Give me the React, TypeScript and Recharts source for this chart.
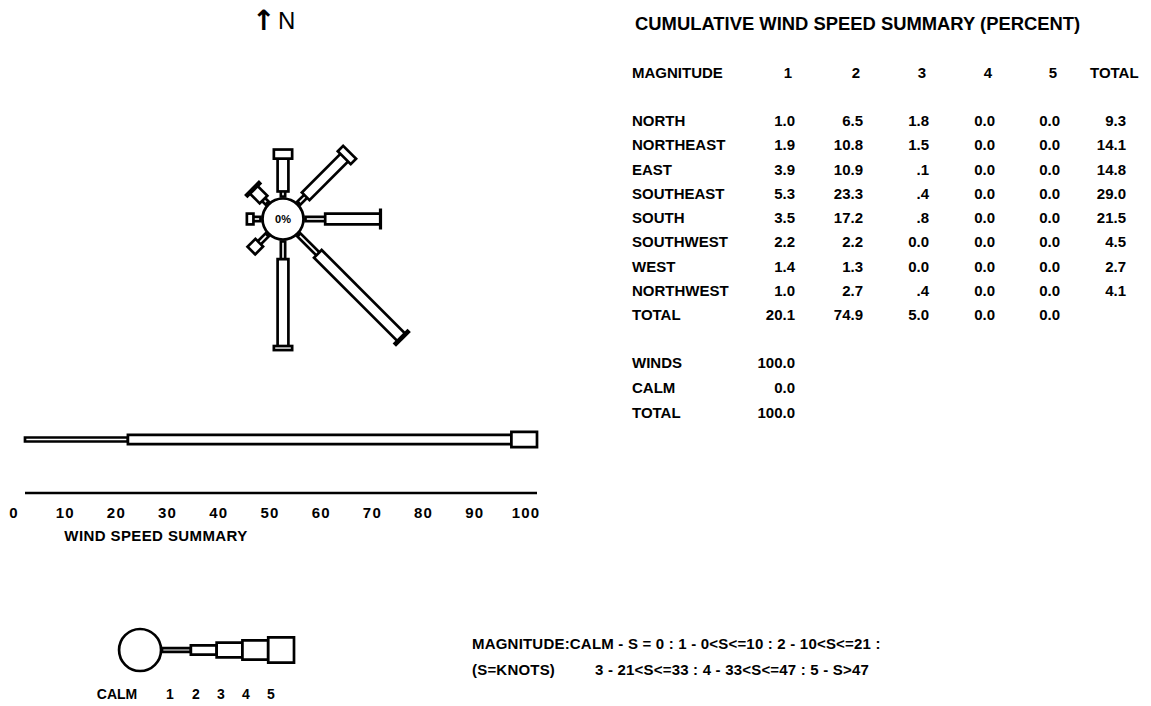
import React from "react";
import {
  ComposedChart,
  XAxis,
  YAxis,
  ReferenceLine,
  ReferenceDot,
  ReferenceArea,
} from "recharts";

// wind summary data (percent)
const DIRECTIONS = ["NORTH", "NORTHEAST", "EAST", "SOUTHEAST", "SOUTH", "SOUTHWEST", "WEST", "NORTHWEST"];
const BEARINGS = [0, 45, 90, 135, 180, 225, 270, 315];
const MAG_1 = [1.0, 1.9, 3.9, 5.3, 3.5, 2.2, 1.4, 1.0];
const MAG_2 = [6.5, 10.8, 10.9, 23.3, 17.2, 2.2, 1.3, 2.7];
const MAG_3 = [1.8, 1.5, 0.1, 0.4, 0.8, 0.0, 0.0, 0.4];
const MAG_4 = [0.0, 0.0, 0.0, 0.0, 0.0, 0.0, 0.0, 0.0];
const MAG_5 = [0.0, 0.0, 0.0, 0.0, 0.0, 0.0, 0.0, 0.0];
const DIR_TOTALS = [9.3, 14.1, 14.8, 29.0, 21.5, 4.5, 2.7, 4.1];
const MAGNITUDES = ["1", "2", "3", "4", "5"];
const MAG_TOTALS = [20.1, 74.9, 5.0, 0.0, 0.0];
const SUMMARY_LABELS = ["WINDS", "CALM", "TOTAL"];
const SUMMARY_VALUES = [100.0, 0.0, 100.0];
const SCALE_TICKS = [0, 10, 20, 30, 40, 50, 60, 70, 80, 90, 100];
const LEGEND_LABELS = ["CALM", "1", "2", "3", "4", "5"];

const FONT = '"Liberation Sans", Arial, Helvetica, sans-serif';
const MAG_ROWS = [MAG_1, MAG_2, MAG_3, MAG_4, MAG_5];

// rose geometry
const ROSE_SIZE = 360;
const PX = 5.05; // pixels per percent
const ROSE_DOMAIN = ROSE_SIZE / (2 * PX);
const R0 = 22.5 / PX;
const BORDER = 2.7;
const ARM_WIDTHS = [7, 13.5, 21, 25, 30];
const LEGEND_HEIGHTS = [6.5, 12, 17.5, 22, 28];

const fmt = (v: number) => (v === 0 ? "0.0" : v < 1 ? v.toFixed(1).replace(/^0/, "") : v.toFixed(1));

type Seg = { from: { x: number; y: number }; to: { x: number; y: number }; w: number };

const outerSegs: Seg[] = [];
const innerSegs: Seg[] = [];
BEARINGS.forEach((b, i) => {
  const a = (b * Math.PI) / 180;
  const ux = Math.sin(a);
  const uy = Math.cos(a);
  const pt = (r: number) => ({ x: ux * (R0 + r), y: uy * (R0 + r) });
  const h = BORDER / 2 / PX;
  let s = 0;
  MAG_ROWS.forEach((row, m) => {
    const v = row[i];
    if (v <= 0) return;
    const e = s + v;
    outerSegs.push({ from: pt(s - h), to: pt(e + h), w: ARM_WIDTHS[m] });
    if (e - s > 2 * h) innerSegs.push({ from: pt(s + h), to: pt(e - h), w: ARM_WIDTHS[m] - 2 * BORDER });
    s = e;
  });
});

function Txt({ x, y, children, align = "left", size = 15, weight = 700, spacing = 0, family = FONT }: any) {
  const w = 400;
  const left = align === "left" ? x : align === "right" ? x - w : x - w / 2;
  return (
    <div
      style={{
        position: "absolute",
        left,
        top: y - 10,
        width: w,
        lineHeight: "20px",
        textAlign: align,
        fontSize: size,
        fontWeight: weight,
        letterSpacing: spacing,
        fontFamily: family,
        whiteSpace: "pre",
        color: "#000",
      }}
    >
      {children}
    </div>
  );
}

function WindRose() {
  return (
    <div style={{ position: "absolute", left: 283 - ROSE_SIZE / 2, top: 219 - ROSE_SIZE / 2 }}>
      <ComposedChart width={ROSE_SIZE} height={ROSE_SIZE} margin={{ top: 0, right: 0, bottom: 0, left: 0 }}>
        <XAxis type="number" dataKey="x" domain={[-ROSE_DOMAIN, ROSE_DOMAIN]} hide allowDataOverflow />
        <YAxis type="number" dataKey="y" domain={[-ROSE_DOMAIN, ROSE_DOMAIN]} hide allowDataOverflow />
        {outerSegs.map((s, i) => (
          <ReferenceLine key={`o${i}`} segment={[s.from, s.to]} stroke="#000" strokeWidth={s.w} ifOverflow="visible" />
        ))}
        {innerSegs.map((s, i) => (
          <ReferenceLine key={`i${i}`} segment={[s.from, s.to]} stroke="#fff" strokeWidth={s.w} ifOverflow="visible" />
        ))}
        <ReferenceDot
          x={0}
          y={0}
          r={20.5}
          fill="#fff"
          stroke="#000"
          strokeWidth={2.7}
          ifOverflow="visible"
          label={{ value: "0%", position: "center", fontSize: 11, fontWeight: 700, fill: "#000", fontFamily: FONT }}
        />
      </ComposedChart>
    </div>
  );
}

function SpeedSummary() {
  let s = 0;
  const segs = MAG_TOTALS.map((v, m) => {
    const seg = { x1: s, x2: s + v, m };
    s += v;
    return seg;
  }).filter((g) => g.x2 > g.x1);
  const heights = [4, 9.4, 15.3, 19.5, 25];
  const cy = 53.5;
  return (
    <div style={{ position: "absolute", left: 0, top: 410 }}>
      <ComposedChart width={560} height={140} margin={{ top: 0, right: 23, bottom: 0, left: 25 }}>
        <XAxis
          type="number"
          dataKey="x"
          domain={[0, 100]}
          allowDataOverflow
          ticks={SCALE_TICKS}
          interval={0}
          height={57}
          tickLine={false}
          tickMargin={8}
          axisLine={{ stroke: "#000", strokeWidth: 2.5 }}
          tick={(p: any) => (
            <text
              x={p.x - 11}
              y={p.y}
              dy="0.71em"
              textAnchor="middle"
              fontSize={15}
              fontWeight={700}
              fontFamily={FONT}
              letterSpacing={1.2}
              fill="#000"
            >
              {p.payload.value}
            </text>
          )}
        />
        <YAxis type="number" dataKey="y" domain={[0, 83]} hide allowDataOverflow />
        {segs.map((g) => (
          <ReferenceArea
            key={g.m}
            x1={g.x1}
            x2={g.x2}
            y1={cy - heights[g.m] / 2}
            y2={cy + heights[g.m] / 2}
            fill="#fff"
            fillOpacity={1}
            stroke="#000"
            strokeWidth={BORDER}
            ifOverflow="visible"
          />
        ))}
      </ComposedChart>
    </div>
  );
}

function MagnitudeLegend() {
  const cy = 30;
  return (
    <div style={{ position: "absolute", left: 80, top: 620 }}>
      <ComposedChart width={218} height={60} margin={{ top: 0, right: 4, bottom: 0, left: 0 }}>
        <XAxis type="number" dataKey="x" domain={[-3.3, 5]} hide allowDataOverflow />
        <YAxis type="number" dataKey="y" domain={[0, 60]} hide allowDataOverflow />
        <ReferenceDot x={-0.97} y={cy} r={21} fill="#fff" stroke="#000" strokeWidth={BORDER} ifOverflow="visible" />
        {MAGNITUDES.map((_, m) => {
          const h = LEGEND_HEIGHTS[m] - BORDER;
          return (
            <ReferenceArea
              key={m}
              x1={m === 0 ? -0.12 : m}
              x2={m + 1}
              y1={cy - h / 2}
              y2={cy + h / 2}
              fill="#fff"
              fillOpacity={1}
              stroke="#000"
              strokeWidth={BORDER}
              ifOverflow="visible"
            />
          );
        })}
      </ComposedChart>
    </div>
  );
}

export default function App() {
  const colRight = [795, 863, 929, 995, 1060];
  const totalRight = 1126;
  const rowY = (i: number) => 121 + i * 24.25;
  const legendX = [117, 170, 196, 221, 246, 271];
  return (
    <div style={{ position: "absolute", left: 0, top: 0, width: 1151, height: 706, background: "#fff", overflow: "hidden" }}>
      {/* north marker */}
      <Txt x={252} y={21} size={28} family='"DejaVu Sans", sans-serif'>↑</Txt>
      <Txt x={278} y={21} size={24} weight={400}>N</Txt>

      <WindRose />
      <SpeedSummary />
      <Txt x={156} y={536} align="center" size={15} spacing={0.4}>WIND SPEED SUMMARY</Txt>
      <MagnitudeLegend />
      {LEGEND_LABELS.map((l, i) => (
        <Txt key={l} x={legendX[i]} y={694} align="center" size={14}>{l}</Txt>
      ))}

      {/* table */}
      <Txt x={635} y={24} size={18.4}>CUMULATIVE WIND SPEED SUMMARY (PERCENT)</Txt>
      <Txt x={632} y={73}>MAGNITUDE</Txt>
      {MAGNITUDES.map((m, j) => (
        <Txt key={m} x={colRight[j] - 3} y={73} align="right">{m}</Txt>
      ))}
      <Txt x={1090} y={73}>TOTAL</Txt>
      {DIRECTIONS.map((d, i) => (
        <React.Fragment key={d}>
          <Txt x={632} y={rowY(i)}>{d}</Txt>
          {MAG_ROWS.map((row, j) => (
            <Txt key={j} x={colRight[j]} y={rowY(i)} align="right">{fmt(row[i])}</Txt>
          ))}
          <Txt x={totalRight} y={rowY(i)} align="right">{fmt(DIR_TOTALS[i])}</Txt>
        </React.Fragment>
      ))}
      <Txt x={632} y={rowY(8)}>TOTAL</Txt>
      {MAG_TOTALS.map((v, j) => (
        <Txt key={j} x={colRight[j]} y={rowY(8)} align="right">{fmt(v)}</Txt>
      ))}
      {SUMMARY_LABELS.map((l, k) => (
        <React.Fragment key={l}>
          <Txt x={632} y={363 + k * 25.2}>{l}</Txt>
          <Txt x={colRight[0]} y={363 + k * 25.2} align="right">{fmt(SUMMARY_VALUES[k])}</Txt>
        </React.Fragment>
      ))}

      {/* magnitude key */}
      <Txt x={472} y={644} spacing={0.2}>{"MAGNITUDE:CALM - S = 0 : 1 - 0<S<=10 : 2 - 10<S<=21 :"}</Txt>
      <Txt x={472} y={670} spacing={0.2}>(S=KNOTS)</Txt>
      <Txt x={595} y={670} spacing={0.2}>{"3 - 21<S<=33 : 4 - 33<S<=47 : 5 - S>47"}</Txt>
    </div>
  );
}
